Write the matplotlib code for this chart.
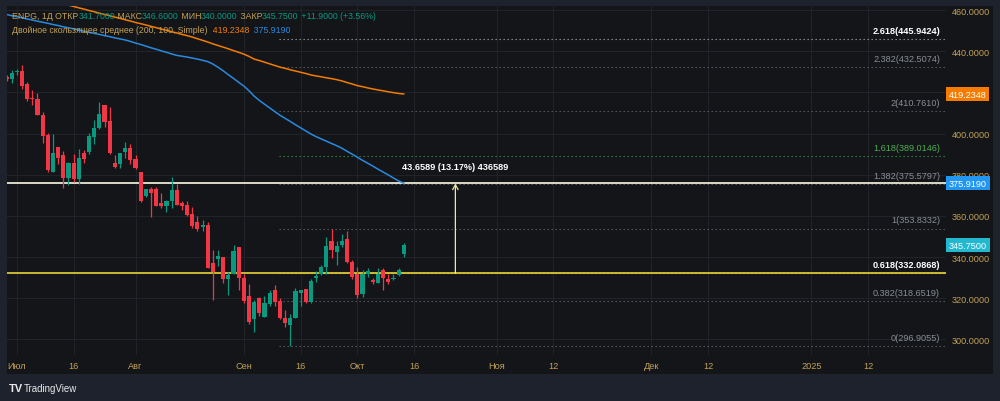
import matplotlib
matplotlib.use("Agg")
import matplotlib.pyplot as plt
import matplotlib.transforms as mtransforms

plt.rcParams['font.family'] = ['Liberation Sans', 'DejaVu Sans']

# ---------------- data ----------------
opens = [427.6, 426.7, 429.9, 430.2, 423.9, 417.3, 417.0, 408.9, 399.2, 381.4,
         393.5, 389.6, 378.4, 385.6, 377.8, 390.6, 391.1, 398.3, 402.7, 413.7,
         406.0, 385.6, 385.4, 391.1, 393.2, 387.5, 381.1, 369.7, 373.0, 373.0,
         366.3, 364.9, 367.3, 372.5, 366.3, 365.2, 360.8, 356.8, 354.7, 355.5,
         336.9, 339.0, 340.1, 329.3, 332.0, 345.0, 329.6, 321.0, 309.7, 319.9,
         311.0, 317.1, 323.9, 318.6, 310.2, 306.9, 310.5, 322.6, 324.4, 318.3,
         329.9, 332.0, 335.2, 347.7, 342.5, 345.8, 348.7, 337.7, 331.6, 322.0,
         331.6, 328.8, 327.5, 333.6, 329.3, 329.1, 331.5, 341.7]
highs = [428.5, 430.7, 431.6, 433.1, 425.0, 421.4, 419.7, 410.5, 400.3, 399.7,
         393.5, 391.6, 386.2, 390.3, 392.7, 392.2, 400.5, 406.5, 415.3, 413.7,
         412.9, 389.5, 390.8, 395.9, 395.1, 389.5, 381.4, 373.3, 374.1, 374.1,
         370.9, 367.6, 378.9, 375.4, 367.0, 367.0, 364.4, 359.9, 357.9, 357.1,
         343.3, 343.3, 340.1, 332.5, 345.8, 345.0, 332.0, 326.8, 319.1, 320.7,
         321.0, 323.9, 326.4, 319.9, 314.2, 312.3, 325.0, 323.9, 324.4, 329.1,
         333.2, 336.1, 349.8, 353.8332, 347.7, 351.0, 352.7, 338.5, 335.2, 333.6,
         334.9, 329.9, 334.9, 334.9, 331.6, 331.6, 334.9, 346.6]
lows = [425.5, 424.6, 428.3, 421.8, 415.8, 414.1, 408.9, 395.4, 381.1, 381.4,
        385.4, 373.6, 374.9, 376.5, 375.4, 385.7, 390.3, 395.1, 402.4, 403.2,
        390.3, 383.5, 383.5, 388.3, 385.1, 383.0, 366.8, 369.2, 359.5, 364.9,
        363.9, 361.9, 363.9, 365.5, 362.8, 359.9, 353.9, 352.7, 352.7, 334.9,
        319.1, 335.6, 327.5, 321.5, 332.0, 323.9, 317.5, 307.4, 303.7, 311.3,
        311.0, 316.2, 316.2, 309.7, 305.8, 296.9055, 310.5, 316.2, 317.5, 317.5,
        328.0, 331.2, 331.7, 339.3, 336.1, 345.0, 336.9, 329.1, 319.9, 320.4,
        330.4, 326.8, 327.5, 323.9, 326.8, 328.8, 331.0, 340.0]
closes = [426.7, 429.6, 430.4, 423.1, 417.0, 416.7, 408.9, 398.7, 382.2, 390.8,
          388.3, 378.4, 385.6, 377.8, 388.3, 387.5, 398.7, 402.7, 409.7, 405.6,
          390.8, 383.8, 390.8, 393.2, 387.4, 383.5, 367.1, 373.0, 371.2, 364.9,
          364.9, 367.1, 372.5, 365.5, 364.9, 360.3, 355.0, 353.5, 355.5, 334.9,
          332.8, 340.6, 329.3, 331.2, 343.0, 329.6, 318.7, 308.5, 318.3, 312.9,
          317.5, 322.6, 318.3, 310.2, 307.8, 310.5, 323.4, 323.9, 318.3, 328.3,
          330.9, 335.2, 345.3, 343.3, 345.3, 347.7, 337.4, 330.1, 321.5, 331.6,
          333.2, 328.0, 332.0, 329.6, 327.7, 329.6, 333.85, 345.75]

# SMA 200 (orange) and SMA 100 (blue) per bar
sma200 = [470.1, 469.5, 468.8, 468.2, 467.5, 466.9, 466.3, 465.6, 465.0, 464.3,
          463.7, 463.0, 462.4, 461.8, 461.1, 460.5, 459.8, 459.2, 458.5, 457.9,
          457.3, 456.6, 456.0, 455.3, 454.7, 454.0, 453.4, 452.8, 452.1, 451.5,
          450.8, 450.2, 449.5, 448.9, 448.2, 447.6, 446.9, 446.1, 445.3, 444.5,
          443.6, 442.8, 442.0, 441.2, 440.3, 439.5, 438.6, 437.5, 436.2, 435.5,
          434.7, 433.9, 433.1, 432.3, 431.7, 431.0, 430.4, 429.8, 429.2, 428.5,
          428.0, 427.6, 427.1, 426.7, 426.2, 425.6, 424.8, 424.1, 423.3, 422.8,
          422.2, 421.7, 421.2, 420.8, 420.3, 419.9, 419.5, 419.2348]
sma100 = [457.9, 457.3, 456.8, 456.3, 455.7, 455.2, 454.6, 454.1, 453.6, 453.0,
          452.5, 451.9, 451.4, 450.9, 450.3, 449.8, 449.2, 448.7, 448.2, 447.6,
          447.1, 446.5, 446.0, 445.5, 444.8, 444.0, 443.3, 442.5, 441.7, 441.0,
          440.2, 439.5, 438.7, 438.0, 437.6, 437.2, 436.7, 436.2, 435.6, 435.0,
          433.8, 432.2, 430.5, 428.6, 426.8, 424.9, 423.1, 420.8, 418.2, 416.1,
          414.3, 412.5, 410.7, 408.9, 407.4, 405.9, 404.3, 402.8, 401.3, 399.8,
          398.5, 397.4, 396.3, 395.2, 394.1, 392.9, 391.4, 390.0, 388.5, 387.0,
          385.6, 384.2, 382.7, 381.3, 379.9, 378.4, 377.0, 375.919]

fib_ratios = ['0', '0.382', '0.618', '1', '1.382', '1.618', '2', '2.382', '2.618']
fib_values = [296.9055, 318.6519, 332.0868, 353.8332, 375.5797, 389.0146,
              410.7610, 432.5074, 445.9424]
fib_start_bar = 53

hline_yellow = 332.0868
hline_white = 375.7457
measure_bar = 87
measure_text = '43.6589 (13.17%) 436589'

xtick_labels = ['Июл', '16', 'Авг', 'Сен', '16', 'Окт', '16', 'Ноя', '12',
                'Дек', '12', '2025', '12']
xtick_bars = [2, 13, 25, 46, 57, 68, 79, 95, 106, 125, 136, 156, 167]
ytick_values = [300, 320, 340, 360, 380, 400, 420, 440, 460]
ytick_labels = ['300.0000', '320.0000', '340.0000', '360.0000', '380.0000',
                '400.0000', '', '440.0000', '460.0000']

legend_line1 = [('ENPG, 1Д ОТКР', 'tan'), ('341.7000', 'g'), (' МАКС', 'tan'),
                ('346.6000', 'g'), (' МИН', 'tan'), ('340.0000', 'g'),
                (' ЗАКР', 'tan'), ('345.7500', 'g'), (' +11.9000 (+3.56%)', 'g')]
legend_line2 = [('Двойное скользящее среднее (200, 100, Simple)', 'tan'),
                ('  419.2348', 'o'), ('  375.9190', 'b')]

# ---------------- style ----------------
OUTER = '#1e222d'
PANEL = '#131519'
GRID = '#202328'
UP = '#089981'
DOWN = '#f23645'
TAN = '#c3a156'
ORANGE = '#f57c00'
BLUE = '#2a8ae0'
cmap = {'tan': TAN, 'g': UP, 'o': ORANGE, 'b': BLUE}

W, H = 1000, 402
fig = plt.figure(figsize=(W / 100, H / 100), dpi=100, facecolor=OUTER)

# dark panel
panel = plt.Rectangle((7 / W, 1 - 375 / H), 986 / W, 368 / H,
                      transform=fig.transFigure, facecolor=PANEL, edgecolor='none',
                      zorder=-10)
fig.patches.append(panel)

ax = fig.add_axes([7 / W, 1 - 356 / H, 939 / W, 349 / H])
ax.set_zorder(1)
ax.set_facecolor(PANEL)
for s in ax.spines.values():
    s.set_visible(False)
ax.set_xlim(0.09, 182.1)
ax.set_ylim(292.4, 462.0)

# grid
for v in ytick_values:
    ax.axhline(v, color=GRID, lw=0.8, zorder=0)
for b in xtick_bars:
    ax.axvline(b, color=GRID, lw=0.8, zorder=0)

# candles
idx = list(range(len(opens)))
for i in idx:
    o, h, l, c = opens[i], highs[i], lows[i], closes[i]
    col = UP if c >= o else DOWN
    ax.vlines(i, l, h, color=col, lw=0.9, zorder=3)
    bottom = min(o, c)
    height = max(abs(c - o), 0.5)
    ax.bar(i, height, bottom=bottom, width=0.8, color=col, edgecolor='none', zorder=4)

# moving averages
ax.plot(idx, sma200, color=ORANGE, lw=1.1, zorder=5)
ax.plot(idx, sma100, color=BLUE, lw=1.1, zorder=5)

# fib levels
xr = ax.get_xlim()[1]
blend = mtransforms.blended_transform_factory(ax.transAxes, ax.transData)
for r, v in zip(fib_ratios, fib_values):
    if r == '1.618':
        lc, tc, fw = '#3a8a3e', '#4caf50', 'normal'
    elif r == '2.618':
        lc, tc, fw = '#9a9ca3', '#ffffff', 'bold'
    elif r == '0.618':
        lc, tc, fw = '#d8c53a', '#ffffff', 'bold'
    else:
        lc, tc, fw = '#5d6068', '#8a8d96', 'normal'
    ax.hlines(v, fib_start_bar - 0.2, xr, colors=lc, lw=0.8,
              linestyles=(0, (1.2, 2.4)), zorder=2)
    ax.annotate(f'{r}({v:.4f})', xy=(0.9936, v), xycoords=blend,
                xytext=(0, 3), textcoords='offset points', ha='right', va='bottom',
                color=tc, fontsize=6.6, fontweight=fw, zorder=6)

# horizontal lines
ax.axhline(hline_yellow, color='#d9c636', lw=1.3, zorder=2)
ax.axhline(hline_white, color='#ebe9d6', lw=1.3, zorder=2)

# measurement arrow
ax.annotate('', xy=(measure_bar, hline_white), xytext=(measure_bar, hline_yellow),
            arrowprops=dict(arrowstyle='->,head_length=0.35,head_width=0.2',
                            color='#ece6a8', lw=0.9, shrinkA=0, shrinkB=0), zorder=6)
ax.annotate(measure_text, xy=(measure_bar, hline_white), xycoords='data',
            xytext=(0, 12), textcoords='offset points', ha='center', va='center',
            color='#ffffff', fontsize=6.6, fontweight='bold', zorder=7)

# axes ticks
ax.yaxis.tick_right()
ax.set_yticks(ytick_values)
ax.set_yticklabels(ytick_labels)
ax.set_xticks(xtick_bars)
ax.set_xticklabels(xtick_labels)
ax.tick_params(axis='y', length=0, pad=4, labelcolor=TAN, labelsize=6.6)
ax.tick_params(axis='x', length=0, pad=4.5, labelcolor=TAN, labelsize=6.6)

# price boxes
for val, txt, bg, fg in [(419.2348, '419.2348', '#f57c00', '#ffffff'),
                         (375.919, '375.9190', '#2196f3', '#ffffff'),
                         (345.75, '345.7500', '#22b8cf', '#ffffff')]:
    ax.text(1.0 + 3 / 939, val, txt, transform=blend, ha='left', va='center',
            fontsize=6.6, color=fg, clip_on=False, zorder=8,
            bbox=dict(boxstyle='square,pad=0.3', fc=bg, ec='none'))

# legend text (chained segments)
texts = []
def chain(parts, x, y):
    prev = fig.text(x, y, parts[0][0], color=cmap[parts[0][1]], fontsize=6.3,
                    ha='left', va='bottom', zorder=9)
    for s, c in parts[1:]:
        t = fig.text(0, 0, s, color=cmap[c], fontsize=6.3, ha='left', va='bottom',
                     zorder=9)
        texts.append((t, prev))
        prev = t

chain(legend_line1, 12 / W, 1 - 21 / H)
chain(legend_line2, 12 / W, 1 - 35 / H)

fig.canvas.draw()
r = fig.canvas.get_renderer()
for t, p in texts:
    bb = p.get_window_extent(r)
    t.set_position((bb.x1 / fig.bbox.width, bb.y0 / fig.bbox.height))
    fig.canvas.draw()

# TradingView logo
fig.text(9 / W, 1 - 389 / H, 'TV', color='#e8e8ea', fontsize=8, fontweight='heavy',
         ha='left', va='center')
fig.text(24 / W, 1 - 389 / H, 'TradingView', color='#e8e8ea', fontsize=7,
         ha='left', va='center')

fig.savefig('out.png', dpi=100, facecolor=OUTER)
